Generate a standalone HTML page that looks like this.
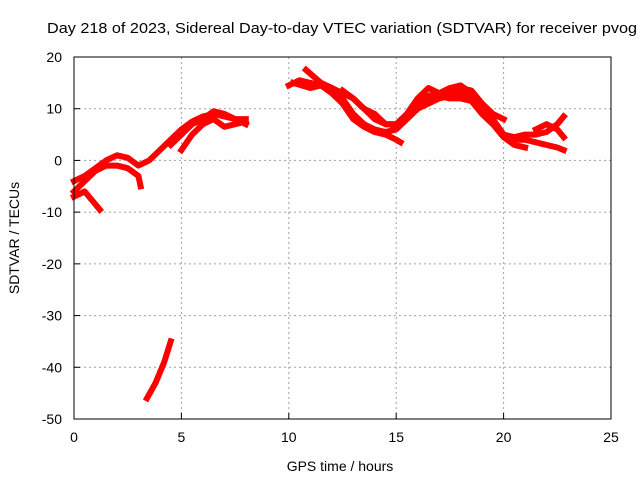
<!DOCTYPE html>
<html><head><meta charset="utf-8"><style>
body{margin:0;background:#fff}
svg{display:block;font-family:"Liberation Sans",sans-serif}
</style></head><body>
<svg id="chart" width="640" height="480">
<text x="47" y="33" font-size="15" textLength="590" lengthAdjust="spacingAndGlyphs">Day 218 of 2023, Sidereal Day-to-day VTEC variation (SDTVAR) for receiver pvog</text>
<text x="340" y="471" font-size="14" text-anchor="middle">GPS time / hours</text>
<text x="19" y="238" font-size="14" text-anchor="middle" transform="rotate(-90 19 238)">SDTVAR / TECUs</text>
<g id="grid"></g><g id="axes"></g><g id="series"></g>
<rect x="74" y="57" width="537" height="362" fill="none" stroke="#000" stroke-width="1"/>
</svg>
<script>
const xTicks=[0,5,10,15,20,25];
const yTicks=[20,10,0,-10,-20,-30,-40,-50];
const trackHours=[
[0,0.5,1,1.5,2,2.5,3,3.5,4,4.5,5,5.5,6,6.5,7,7.5,8],
[0,0.5,1,1.5,2,2.5,3,3.1],
[0,0.5,1,1.2],
[3.4,3.8,4.2,4.5],
[5,5.5,6,6.5,7,7.5,8],
[4.5,5,5.5,6,6.5,7,7.5,8],
[10,10.5,11,11.5,12,12.5,13,13.5,14,14.5,15,15.5,16,16.5,17,17.5,18,18.5,19,19.5,20,20.5,21,21.5,22,22.5,22.8],
[10.2,11,11.5,12,12.5,13,13.5,14,14.5,15,15.5,16,16.5,17,17.5,18,18.5,19,19.5,20],
[10.8,11.5,12,12.5,13,13.5,14,14.5,15],
[14.5,15,15.2],
[12.5,13,13.5,14,14.5,15,15.5,16,16.5,17,17.5,18,18.5,19,19.5,20,20.5,21,21.5,22,22.5,22.8],
[16,16.5,17,17.5,18,18.5,19,19.5,20,20.5,21],
[21.5,22,22.5,22.8]
];
const trackValues=[
[-4,-3,-1.5,0,1,0.5,-1,0,2,4,6,7.5,8.5,9,8.5,8,8],
[-6,-4,-2,-1,-1,-1.5,-3,-5],
[-7,-6,-8.5,-9.5],
[-46,-43,-39,-35],
[2,5,7,8,6.5,7,7.5],
[3,5,7,8,9.5,9,8,7],
[14.5,15.5,15,14.5,14,12,9,7,6,5.5,6,8,10,11,12,12.5,13,12,9,7,5,4,4,3.5,3,2.5,2],
[15,14,14.5,13,11,8,6.5,5.5,5,6.5,8.5,11,12.5,13,13.5,14,13.5,11,9,8],
[17.5,15,14,13,12,10,9,7,7],
[5,4,3.5],
[13.5,12,10,8,7,7,9,12,14,13,14,14.5,13,11,8,5,4.5,5,5,5.5,7,8.5],
[10,12,12.5,12,12,11.5,9,7,4.5,3,2.5],
[6,7,6,4.5]
];
const X=h=>74+h*537/25, Y=v=>57+(20-v)*362/70;
const NS="http://www.w3.org/2000/svg";
const grid=document.getElementById('grid'),axes=document.getElementById('axes'),series=document.getElementById('series');
function mk(tag,attrs,parent){const e=document.createElementNS(NS,tag);for(const k in attrs)e.setAttribute(k,attrs[k]);parent.appendChild(e);return e;}
xTicks.forEach(t=>{
 if(t>0&&t<25){const g=mk('line',{x1:X(t),x2:X(t),y1:57,y2:419,stroke:'#a0a0a0','stroke-dasharray':'2,3'},grid);
 
 }
 const tk=mk('line',{x1:X(t),x2:X(t),y1:419,y2:413,stroke:'#000'},axes);
 
 
 const tx=mk('text',{x:X(t),y:442,'font-size':14,'text-anchor':'middle'},axes);tx.textContent=t;
 
 
});
yTicks.forEach(t=>{
 if(t<20&&t>-50){const g=mk('line',{x1:74,x2:611,y1:Y(t),y2:Y(t),stroke:'#a0a0a0','stroke-dasharray':'2,3'},grid);
 
 }
 const tk=mk('line',{x1:74,x2:80,y1:Y(t),y2:Y(t),stroke:'#000'},axes);
 
 
 const tx=mk('text',{x:62,y:Y(t)+5,'font-size':14,'text-anchor':'end'},axes);tx.textContent=t;
 
 
});
trackHours.forEach((hs,i)=>{
 const pts=hs.map((h,j)=>X(h).toFixed(1)+','+Y(trackValues[i][j]).toFixed(1)).join(' ');
 const p=mk('polyline',{points:pts,fill:'none',stroke:'#ff0000','stroke-width':6,'stroke-linejoin':'round','stroke-linecap':'square'},series);
 
 
});
</script>
</body></html>
